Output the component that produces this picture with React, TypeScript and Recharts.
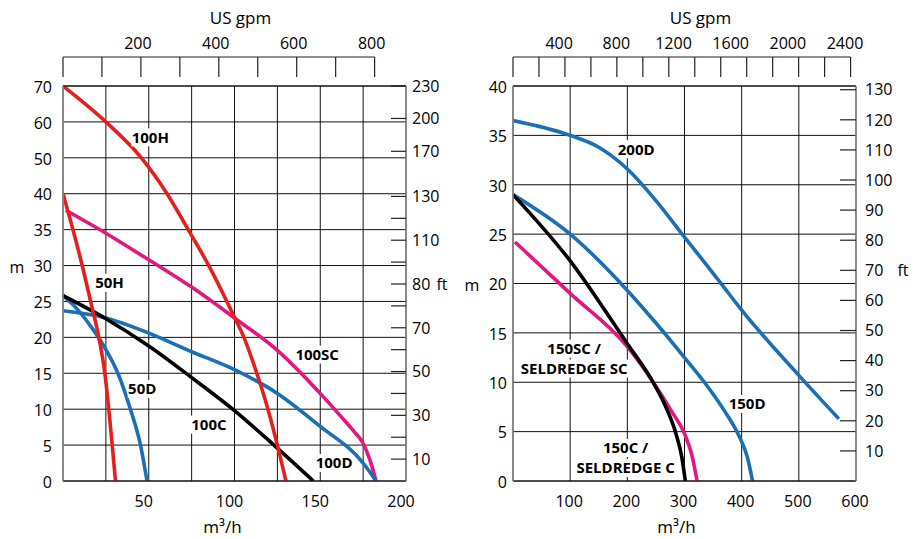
import React from 'react';
import { LineChart, Line, XAxis, YAxis, CartesianGrid, ReferenceDot } from 'recharts';

const FONT = '"Open Sans", "Noto Sans", sans-serif';
const GPM_PER_M3H = 4.403;
const M_PER_FT = 0.3048;

type Pt = [number, number];

const RED = '#E4201F';
const MAGENTA = '#E0187F';
const BLUE = '#1A6FB5';
const BLACK = '#000';

// ---------- left chart (50 / 100 models) ----------
const qTicksL = [0, 25, 50, 75, 100, 125, 150, 175, 200];
const qLabelsL = ['', '', '50', '', '100', '', '150', '', '200'];
const mTicksL = [0, 5, 10, 15, 20, 25, 30, 35, 40, 50, 60, 70];
const ftTicksL = [10, 20, 30, 40, 50, 60, 70, 80, 90, 100, 110, 120, 130, 170, 200, 230];
const ftLabelsL = ['10', '', '30', '', '50', '', '70', '', '80', '', '110', '', '130', '170', '200', '230'];
const gpmMarksL = [0, 100, 200, 300, 400, 500, 600, 700, 800];
const gpmLabelsL = ['200', '400', '600', '800'];

const c100H: Pt[] = [[0, 70], [25, 60], [45.7, 50], [60.7, 40], [73, 35], [85, 30], [99.4, 23.1], [105.5, 20], [113, 15], [119.5, 10], [125, 5], [130, 0]];
const c50H: Pt[] = [[0, 40], [5.8, 35], [11.2, 30], [16.1, 25], [20.9, 20], [24.4, 15], [26.7, 10], [28.7, 5], [30.6, 0]];
const c50D: Pt[] = [[0, 25.8], [8, 24], [16, 21.6], [25, 18.3], [32, 15], [39.3, 10], [45.2, 5], [49, 0]];
const c100C: Pt[] = [[0, 25.8], [25, 22.6], [50, 18.8], [75, 14.4], [100, 9.8], [123, 5], [146, 0]];
const c100D: Pt[] = [[0, 23.7], [25, 22.7], [50, 20.6], [75, 18], [100, 15.5], [125, 12.2], [150, 7.6], [175, 2.5], [178.5, 1.4], [182.5, 0]];
const c100SC: Pt[] = [[1.6, 37.7], [25, 34.5], [50, 30.8], [75, 27], [100, 22.7], [125, 18.2], [150, 12.2], [162, 9], [170, 6.8], [175, 5.25], [179, 2.9], [182.5, 0]];

// ---------- right chart (150 / 200 models) ----------
const qTicksR = [0, 100, 200, 300, 400, 500, 600];
const qLabelsR = ['', '100', '200', '300', '400', '500', '600'];
const mTicksR = [0, 5, 10, 15, 20, 25, 30, 35, 40];
const ftTicksR = [10, 20, 30, 40, 50, 60, 70, 80, 90, 100, 110, 120, 130];
const gpmMarksR = [0, 200, 400, 600, 800, 1000, 1200, 1400, 1600, 1800, 2000, 2200, 2400, 2600];
const gpmLabelsR = ['400', '800', '1200', '1600', '2000', '2400'];
const gpmLabelAtR = [100, 200, 300, 400, 500, 600];

const c200D: Pt[] = [[0, 36.5], [100, 35], [150, 33.8], [200, 31.6], [250, 28.4], [300, 24.7], [360, 20.3], [400, 17.3], [500, 10.7], [570, 6.3]];
const c150D: Pt[] = [[0, 29], [100, 25], [200, 19.3], [250, 16], [300, 12.5], [340, 9.6], [370, 7.1], [395, 4.6], [410, 2.4], [419, 0]];
const c150C: Pt[] = [[0, 29], [100, 22.3], [200, 13.9], [243, 10.2], [265, 7.8], [284, 5], [295, 2.5], [301.5, 0]];
const c150SC: Pt[] = [[3.5, 24.2], [100, 19], [200, 13.6], [243, 10.2], [278, 7], [300, 4.8], [313, 2.6], [322, 0]];

// left chart head axis is not linear: 5 m per grid row up to 40 m, then 10 m
const mToGrid = (m: number) => (m <= 40 ? m / 5 : 8 + (m - 40) / 10);
const toRowsL = (pts: Pt[]) => pts.map(([q, m]) => ({ q, g: mToGrid(m) }));
const toRowsR = (pts: Pt[]) => pts.map(([q, m]) => ({ q, m }));

const PLOT_W = 343;
const PLOT_TOP = 86;
const FS = 16;

function TopTick(props: any) {
  const { x, index, entries, spanPx, labelDx } = props;
  const e = entries[index];
  if (!e) return <g />;
  const y = PLOT_TOP;
  const lineY = y - 29;
  return (
    <g>
      {e.mark && <line x1={x} y1={lineY} x2={x} y2={y - 9} stroke="#222" strokeWidth={1.2} />}
      {e.mark && index === 0 && <line x1={x} y1={lineY} x2={x + spanPx} y2={lineY} stroke="#222" strokeWidth={1.2} />}
      {e.text && (
        <text x={x + labelDx} y={y - 37} textAnchor="middle" fontSize={FS} fill="#000" fontFamily={FONT}>
          {e.text}
        </text>
      )}
    </g>
  );
}

function BottomTick(props: any) {
  const { x, y, index, labels, dx } = props;
  const t = labels[index];
  if (!t) return <g />;
  return (
    <text x={x + dx} y={y + 15} dy="0.71em" textAnchor="middle" fontSize={FS} fill="#000" fontFamily={FONT}>
      {t}
    </text>
  );
}

function LeftTick(props: any) {
  const { x, y, index, labels, unitAt } = props;
  return (
    <g fontFamily={FONT} fontSize={FS} fill="#000">
      <text x={x} y={y + 1} dy="0.36em" textAnchor="end">{labels[index]}</text>
      {index === unitAt && <text x={x - 35} y={y + 2} dy="0.36em" textAnchor="middle">m</text>}
    </g>
  );
}

function FtTick(props: any) {
  const { x, y, index, labels, unitAt, unitDx, gap, markLen } = props;
  const axisX = x - gap;
  const t = labels[index];
  return (
    <g fontFamily={FONT} fontSize={FS} fill="#000">
      <line x1={axisX - markLen} y1={y} x2={axisX} y2={y} stroke="#222" strokeWidth={1.2} />
      {t && <text x={x} y={y} dy="0.36em" textAnchor="start">{t}</text>}
      {index === unitAt && <text x={x + unitDx} y={y} dy="0.36em" textAnchor="middle">ft</text>}
    </g>
  );
}

function CurveLabel(props: any) {
  const { cx, cy, lines } = props;
  const lh = 20;
  const top = cy - ((lines.length - 1) * lh) / 2;
  return (
    <g>
      {lines.map((t: string, i: number) => {
        const w = t.length * 9 + 2;
        const yy = top + i * lh;
        return (
          <g key={i}>
            <rect x={cx - w / 2} y={yy - 9} width={w} height={18} fill="#fff" />
            <text x={cx} y={yy} dy="0.36em" textAnchor="middle" fontSize={15} fontWeight={700} fill="#000" fontFamily={FONT}>
              {t}
            </text>
          </g>
        );
      })}
    </g>
  );
}

const titleTop = (dx: number) => (p: any) => (
  <text x={p.viewBox.x + p.viewBox.width / 2 + dx} y={24} textAnchor="middle" fontSize={17} fill="#000" fontFamily={FONT}>
    US gpm
  </text>
);
const titleBottom = (dx: number) => (p: any) => (
  <text x={p.viewBox.x + p.viewBox.width / 2 + dx} y={p.viewBox.y + p.viewBox.height - 6} textAnchor="middle" fontSize={17} fill="#000" fontFamily={FONT}>
    m³/h
  </text>
);

function LeftChart() {
  const topEntries = gpmMarksL.map((g) => ({
    pos: g / GPM_PER_M3H,
    mark: true,
    text: gpmLabelsL.includes(String(g)) ? String(g) : '',
  }));
  const spanPx = ((gpmMarksL[gpmMarksL.length - 1] / GPM_PER_M3H) * PLOT_W) / 200;
  const ftPos = ftTicksL.map((ft) => Math.min(11, mToGrid(ft * M_PER_FT)));
  const curves: [Pt[], string][] = [
    [c100SC, MAGENTA],
    [c100D, BLUE],
    [c50D, BLUE],
    [c100C, BLACK],
    [c50H, RED],
    [c100H, RED],
  ];
  const labels: [number, number, string[]][] = [
    [50.9, 55.7, ['100H']],
    [27.1, 27.6, ['50H']],
    [46.2, 12.8, ['50D']],
    [85.1, 7.85, ['100C']],
    [148.2, 17.6, ['100SC']],
    [158.1, 2.5, ['100D']],
  ];
  return (
    <LineChart width={460} height={539} margin={{ top: 0, right: 0, bottom: 0, left: 0 }}>
      <CartesianGrid xAxisId="q" yAxisId="m" stroke="#111" strokeWidth={1} fill="none" />
      <XAxis
        xAxisId="q"
        dataKey="q"
        type="number"
        domain={[0, 200]}
        allowDataOverflow
        ticks={qTicksL}
        interval={0}
        height={58}
        axisLine={{ stroke: '#111', strokeWidth: 1.2 }}
        tickLine={false}
        tickSize={0}
        tickMargin={0}
        tick={(p: any) => <BottomTick {...p} labels={qLabelsL} dx={-5} />}
        label={{ content: titleBottom(-12) }}
      />
      <XAxis
        xAxisId="top"
        dataKey="q"
        orientation="top"
        type="number"
        domain={[0, 200]}
        allowDataOverflow
        ticks={topEntries.map((e) => e.pos)}
        interval={0}
        height={86}
        axisLine={{ stroke: '#111', strokeWidth: 1.2 }}
        tickLine={false}
        tickSize={0}
        tickMargin={0}
        tick={(p: any) => <TopTick {...p} entries={topEntries} spanPx={spanPx} labelDx={-3} />}
        label={{ content: titleTop(6) }}
      />
      <YAxis
        yAxisId="m"
        type="number"
        domain={[0, 11]}
        allowDataOverflow
        ticks={mTicksL.map(mToGrid)}
        interval={0}
        width={63}
        axisLine={{ stroke: '#8a8a8a', strokeWidth: 1.5 }}
        tickLine={false}
        tickSize={0}
        tickMargin={11}
        tick={(p: any) => <LeftTick {...p} labels={mTicksL.map(String)} unitAt={6} />}
      />
      <YAxis
        yAxisId="ft"
        orientation="right"
        type="number"
        domain={[0, 11]}
        allowDataOverflow
        ticks={ftPos}
        interval={0}
        width={54}
        axisLine={{ stroke: '#8a8a8a', strokeWidth: 1.5 }}
        tickLine={false}
        tickSize={0}
        tickMargin={6}
        tick={(p: any) => <FtTick {...p} labels={ftLabelsL} unitAt={8} unitDx={30} gap={6} markLen={15} />}
      />
      {/* invisible series so the gpm axis gets a scale */}
      <Line
        data={toRowsL(c100H)}
        xAxisId="top"
        yAxisId="m"
        dataKey="g"
        stroke="none"
        dot={false}
        activeDot={false}
        legendType="none"
        isAnimationActive={false}
      />
      {curves.map(([pts, color], i) => (
        <Line
          key={i}
          data={toRowsL(pts)}
          xAxisId="q"
          yAxisId="m"
          dataKey="g"
          type="monotone"
          stroke={color}
          strokeWidth={3.6}
          dot={false}
          activeDot={false}
          isAnimationActive={false}
        />
      ))}
      {labels.map(([q, m, lines], i) => (
        <ReferenceDot
          key={`l${i}`}
          xAxisId="q"
          yAxisId="m"
          x={q}
          y={mToGrid(m)}
          r={0}
          ifOverflow="visible"
          shape={(p: any) => <CurveLabel {...p} lines={lines} />}
        />
      ))}
    </LineChart>
  );
}

function RightChart() {
  const topEntries = [
    ...gpmMarksR.map((g) => ({ pos: g / GPM_PER_M3H, mark: true, text: '' })),
    ...gpmLabelsR.map((t, i) => ({ pos: gpmLabelAtR[i], mark: false, text: t })),
  ];
  const spanPx = ((gpmMarksR[gpmMarksR.length - 1] / GPM_PER_M3H) * PLOT_W) / 600;
  const curves: [Pt[], string][] = [
    [c200D, BLUE],
    [c150D, BLUE],
    [c150SC, MAGENTA],
    [c150C, BLACK],
  ];
  const labels: [number, number, string[]][] = [
    [215.5, 33.6, ['200D']],
    [107, 12.4, ['150SC /', 'SELDREDGE SC']],
    [409.5, 7.8, ['150D']],
    [197, 2.33, ['150C /', 'SELDREDGE C']],
  ];
  return (
    <LineChart width={464} height={539} margin={{ top: 0, right: 0, bottom: 0, left: 0 }}>
      <CartesianGrid xAxisId="q" yAxisId="m" stroke="#111" strokeWidth={1} fill="none" />
      <XAxis
        xAxisId="q"
        dataKey="q"
        type="number"
        domain={[0, 600]}
        allowDataOverflow
        ticks={qTicksR}
        interval={0}
        height={58}
        axisLine={{ stroke: '#111', strokeWidth: 1.2 }}
        tickLine={false}
        tickSize={0}
        tickMargin={0}
        tick={(p: any) => <BottomTick {...p} labels={qLabelsR} dx={-1} />}
        label={{ content: titleBottom(-8) }}
      />
      <XAxis
        xAxisId="top"
        dataKey="q"
        orientation="top"
        type="number"
        domain={[0, 600]}
        allowDataOverflow
        ticks={topEntries.map((e) => e.pos)}
        interval={0}
        height={86}
        axisLine={{ stroke: '#111', strokeWidth: 1.2 }}
        tickLine={false}
        tickSize={0}
        tickMargin={0}
        tick={(p: any) => <TopTick {...p} entries={topEntries} spanPx={spanPx} labelDx={-11} />}
        label={{ content: titleTop(16) }}
      />
      <YAxis
        yAxisId="m"
        type="number"
        domain={[0, 40]}
        allowDataOverflow
        ticks={mTicksR}
        interval={0}
        width={53}
        axisLine={{ stroke: '#8a8a8a', strokeWidth: 1.5 }}
        tickLine={false}
        tickSize={0}
        tickMargin={6}
        tick={(p: any) => <LeftTick {...p} labels={mTicksR.map(String)} unitAt={4} />}
      />
      <YAxis
        yAxisId="ft"
        orientation="right"
        type="number"
        domain={[0, 40 / M_PER_FT]}
        allowDataOverflow
        ticks={ftTicksR}
        interval={0}
        width={68}
        axisLine={{ stroke: '#8a8a8a', strokeWidth: 1.5 }}
        tickLine={false}
        tickSize={0}
        tickMargin={9}
        tick={(p: any) => <FtTick {...p} labels={ftTicksR.map(String)} unitAt={6} unitDx={38} gap={9} markLen={16} />}
      />
      {/* invisible series so the gpm axis gets a scale */}
      <Line
        data={toRowsR(c200D)}
        xAxisId="top"
        yAxisId="m"
        dataKey="m"
        stroke="none"
        dot={false}
        activeDot={false}
        legendType="none"
        isAnimationActive={false}
      />
      {curves.map(([pts, color], i) => (
        <Line
          key={i}
          data={toRowsR(pts)}
          xAxisId="q"
          yAxisId="m"
          dataKey="m"
          type="monotone"
          stroke={color}
          strokeWidth={3.6}
          dot={false}
          activeDot={false}
          isAnimationActive={false}
        />
      ))}
      {labels.map(([q, m, lines], i) => (
        <ReferenceDot
          key={`l${i}`}
          xAxisId="q"
          yAxisId="m"
          x={q}
          y={m}
          r={0}
          ifOverflow="visible"
          shape={(p: any) => <CurveLabel {...p} lines={lines} />}
        />
      ))}
    </LineChart>
  );
}

export default function App() {
  return (
    <div style={{ position: 'absolute', left: 0, top: 0, width: 924, height: 539, background: '#fff', fontFamily: FONT }}>
      <div style={{ position: 'absolute', left: 0, top: 0 }}>
        <LeftChart />
      </div>
      <div style={{ position: 'absolute', left: 460, top: 0 }}>
        <RightChart />
      </div>
    </div>
  );
}
